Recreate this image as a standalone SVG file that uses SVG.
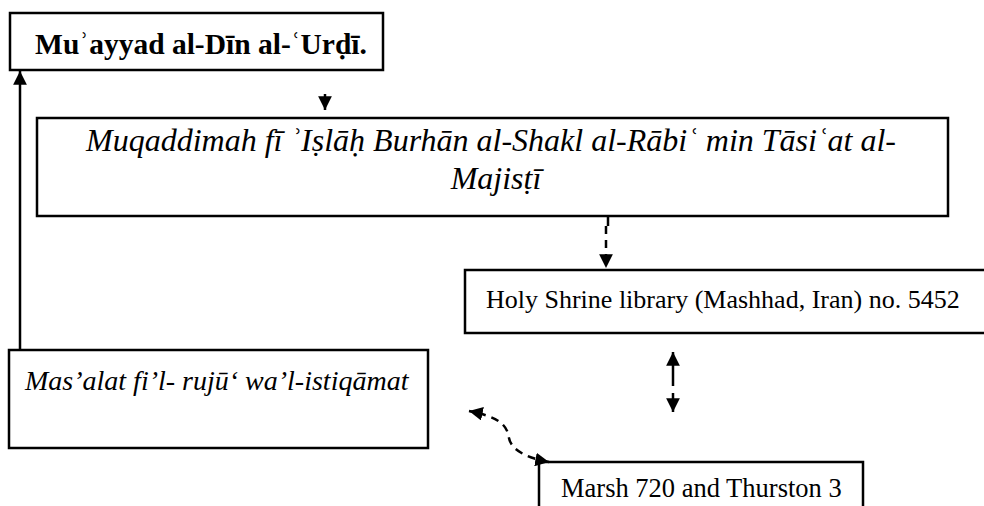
<svg xmlns="http://www.w3.org/2000/svg" width="984" height="506" viewBox="0 0 984 506">
<defs>
<style>
.box{fill:#fff;stroke:#000;stroke-width:2.5}
.t{font-family:"Liberation Serif","Times New Roman",serif;font-size:26px;fill:#000}
.i{font-style:italic}
.b{font-weight:bold}
.c{stroke:#000;stroke-width:2.5;fill:none}
.d{stroke-dasharray:8,6}
</style>
<marker id="ah" viewBox="0 0 10 10" refX="10" refY="5" markerWidth="5.5" markerHeight="5.5" orient="auto-start-reverse" markerUnits="strokeWidth">
<path d="M0,0 L10,5 L0,10 Z" fill="#000"/>
</marker>
</defs>
<rect width="984" height="506" fill="#fff"/>
<g id="n1">
<rect class="box" x="10" y="13" width="373" height="57"/>
<text class="t b" x="201" y="54" text-anchor="middle" style="font-size:29.5px">Muʾayyad al-Dīn al-ʿUrḍī.</text>
</g>
<g id="n2">
<rect class="box" x="37" y="118" width="911" height="98"/>
<text class="t i" x="491" y="151" text-anchor="middle" style="font-size:32px">Muqaddimah fī ʾIṣlāḥ Burhān al-Shakl al-Rābiʿ min Tāsiʿat al-</text>
<text class="t i" x="496" y="189" text-anchor="middle" style="font-size:32px">Majisṭī</text>
</g>
<g id="n3">
<rect class="box" x="465" y="270" width="530" height="63"/>
<text class="t" x="486" y="308">Holy Shrine library (Mashhad, Iran) no. 5452</text>
</g>
<g id="n4">
<rect class="box" x="9" y="350" width="419" height="98"/>
<text class="t i" x="25" y="390" style="font-size:28px">Mas’alat fi’l- rujū‘ wa’l-istiqāmat</text>
</g>
<g id="n5">
<rect class="box" x="539" y="462" width="324" height="60"/>
<text class="t" x="561" y="497" style="font-size:26.5px">Marsh 720 and Thurston 3</text>
</g>
<g id="connectors">
<line class="c" x1="325" y1="94" x2="325" y2="110" marker-end="url(#ah)"/>
<line class="c" x1="20" y1="350" x2="20" y2="71" marker-end="url(#ah)"/>
<line class="c" x1="608" y1="216" x2="608" y2="226"/>
<line class="c d" x1="606" y1="226" x2="606" y2="268" marker-end="url(#ah)"/>
<line class="c" x1="673" y1="386" x2="673" y2="352" marker-end="url(#ah)"/>
<line class="c" x1="673" y1="393" x2="673" y2="412" marker-end="url(#ah)"/>
<path class="c d" d="M549,462 C527,458 511,450 509,438 C507,424 498,417 469,411" marker-start="url(#ah)" marker-end="url(#ah)"/>
</g>
</svg>
